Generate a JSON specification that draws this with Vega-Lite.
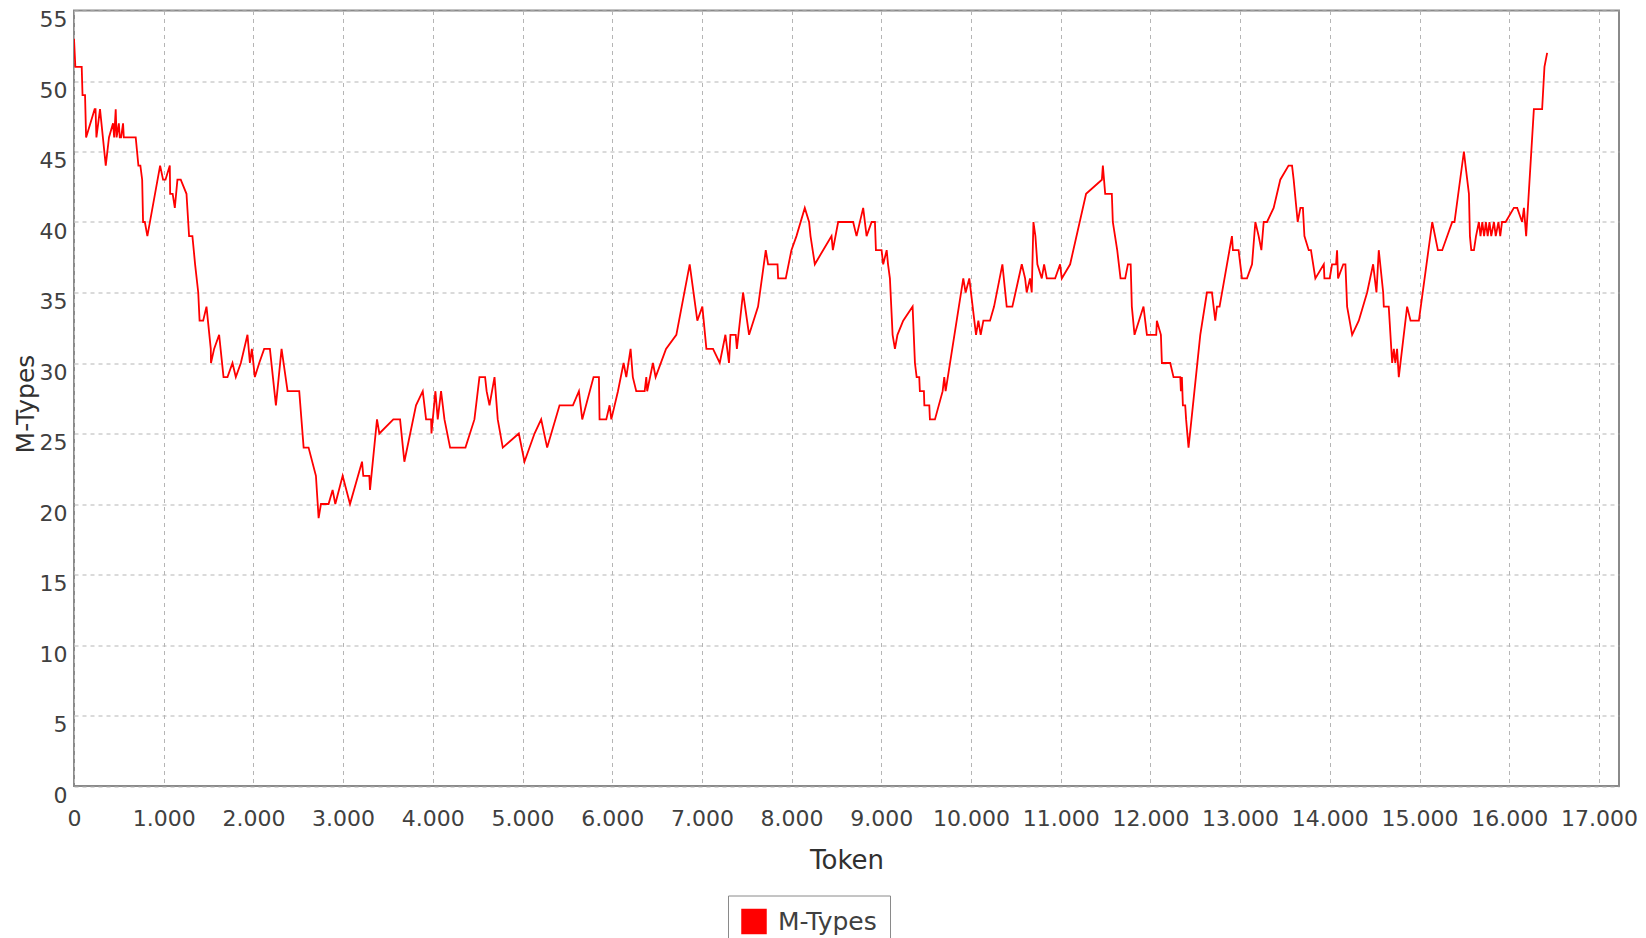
{
 "$schema": "https://vega.github.io/schema/vega-lite/v6.json",
 "autosize": {"type": "none"},
 "width": 1545,
 "height": 775.5,
 "padding": {"left": 74, "top": 10.5, "right": 27, "bottom": 152},
 "background": "white",
 "data": {"values": [
  {"t":0,"v":53},{"t":15,"v":51},{"t":86,"v":51},{"t":95,"v":49},{"t":123,"v":49},{"t":135,"v":46},{"t":230,"v":48},{"t":240,"v":48},{"t":250,"v":46},{"t":290,"v":48},{"t":354,"v":44},{"t":390,"v":46},{"t":435,"v":47},{"t":448,"v":46},{"t":465,"v":48},{"t":475,"v":46},{"t":500,"v":47},{"t":510,"v":46},{"t":525,"v":46},{"t":547,"v":47},{"t":555,"v":46},{"t":688,"v":46},{"t":718,"v":44},{"t":740,"v":44},{"t":760,"v":43},{"t":770,"v":40},{"t":790,"v":40},{"t":818,"v":39},{"t":960,"v":44},{"t":993,"v":43},{"t":1020,"v":43},{"t":1068,"v":44},{"t":1072,"v":42},{"t":1100,"v":42},{"t":1124,"v":41},{"t":1153,"v":43},{"t":1190,"v":43},{"t":1254,"v":42},{"t":1283,"v":39},{"t":1320,"v":39},{"t":1350,"v":37},{"t":1385,"v":35},{"t":1400,"v":33},{"t":1440,"v":33},{"t":1477,"v":34},{"t":1525,"v":31},{"t":1527,"v":30},{"t":1562,"v":31},{"t":1618,"v":32},{"t":1667,"v":29},{"t":1711,"v":29},{"t":1767,"v":30},{"t":1804,"v":29},{"t":1860,"v":30},{"t":1934,"v":32},{"t":1961,"v":30},{"t":1983,"v":31},{"t":2016,"v":29},{"t":2065,"v":30},{"t":2120,"v":31},{"t":2184,"v":31},{"t":2251,"v":27},{"t":2314,"v":31},{"t":2381,"v":28},{"t":2511,"v":28},
  {"t":2560,"v":24},{"t":2615,"v":24},{"t":2697,"v":22},{"t":2727,"v":19},{"t":2753,"v":20},{"t":2838,"v":20},{"t":2883,"v":21},{"t":2913,"v":20},{"t":2995,"v":22},{"t":3077,"v":20},{"t":3211,"v":23},{"t":3225,"v":22},{"t":3292,"v":22},{"t":3300,"v":21},{"t":3378,"v":26},{"t":3404,"v":25},{"t":3560,"v":26},{"t":3635,"v":26},{"t":3683,"v":23},{"t":3813,"v":27},{"t":3888,"v":28},{"t":3925,"v":26},{"t":3981,"v":26},{"t":3985,"v":25},{"t":4029,"v":28},{"t":4055,"v":26},{"t":4092,"v":28},{"t":4130,"v":26},{"t":4193,"v":24},{"t":4364,"v":24},{"t":4464,"v":26},{"t":4520,"v":29},{"t":4583,"v":29},{"t":4600,"v":28},{"t":4632,"v":27},{"t":4688,"v":29},{"t":4724,"v":26},{"t":4780,"v":24},{"t":4959,"v":25},{"t":5022,"v":23},{"t":5134,"v":25},{"t":5208,"v":26},{"t":5275,"v":24},{"t":5413,"v":27},{"t":5562,"v":27},{"t":5629,"v":28},{"t":5666,"v":26},{"t":5792,"v":29},{"t":5852,"v":29},{"t":5859,"v":26},{"t":5934,"v":26},{"t":5971,"v":27},{"t":5990,"v":26},{"t":6064,"v":28},{"t":6127,"v":30},{"t":6157,"v":29},{"t":6205,"v":31},{"t":6230,"v":29},{"t":6268,"v":28},{"t":6362,"v":28},{"t":6380,"v":29},{"t":6390,"v":28},{"t":6454,"v":30},{"t":6484,"v":29},
  {"t":6600,"v":31},{"t":6715,"v":32},{"t":6864,"v":37},{"t":6949,"v":33},{"t":7005,"v":34},{"t":7050,"v":31},{"t":7124,"v":31},{"t":7199,"v":30},{"t":7262,"v":32},{"t":7302,"v":30},{"t":7318,"v":32},{"t":7377,"v":32},{"t":7390,"v":31},{"t":7459,"v":35},{"t":7526,"v":32},{"t":7626,"v":34},{"t":7712,"v":38},{"t":7738,"v":37},{"t":7843,"v":37},{"t":7850,"v":36},{"t":7935,"v":36},{"t":7998,"v":38},{"t":8054,"v":39},{"t":8147,"v":41},{"t":8195,"v":40},{"t":8211,"v":39},{"t":8259,"v":37},{"t":8351,"v":38},{"t":8445,"v":39},{"t":8460,"v":38},{"t":8519,"v":40},{"t":8686,"v":40},{"t":8724,"v":39},{"t":8798,"v":41},{"t":8836,"v":39},{"t":8892,"v":40},{"t":8929,"v":40},{"t":8940,"v":38},{"t":9003,"v":38},{"t":9021,"v":37},{"t":9060,"v":38},{"t":9075,"v":37},{"t":9096,"v":36},{"t":9126,"v":32},{"t":9152,"v":31},{"t":9180,"v":32},{"t":9244,"v":33},{"t":9349,"v":34},{"t":9375,"v":30},{"t":9394,"v":29},{"t":9423,"v":29},{"t":9430,"v":28},{"t":9475,"v":28},{"t":9480,"v":27},{"t":9535,"v":27},{"t":9542,"v":26},{"t":9598,"v":26},{"t":9684,"v":28},{"t":9702,"v":29},{"t":9717,"v":28},{"t":9914,"v":36},{"t":9940,"v":35},{"t":9981,"v":36},{"t":10056,"v":32},{"t":10082,"v":33},{"t":10108,"v":32},{"t":10138,"v":33},{"t":10212,"v":33},{"t":10257,"v":34},{"t":10350,"v":37},{"t":10398,"v":34},{"t":10461,"v":34},{"t":10566,"v":37},{"t":10603,"v":36},{"t":10621,"v":35},{"t":10658,"v":36},{"t":10677,"v":35},{"t":10696,"v":40},{"t":10718,"v":39},{"t":10740,"v":37},{"t":10789,"v":36},{"t":10815,"v":37},{"t":10845,"v":36},{"t":10938,"v":36},{"t":10993,"v":37},{"t":11012,"v":36},{"t":11105,"v":37},{"t":11283,"v":42},{"t":11459,"v":43},{"t":11470,"v":44},{"t":11496,"v":42},{"t":11570,"v":42},
  {"t":11581,"v":40},{"t":11630,"v":38},{"t":11667,"v":36},{"t":11719,"v":36},{"t":11749,"v":37},{"t":11780,"v":37},{"t":11793,"v":34},{"t":11823,"v":32},{"t":11923,"v":34},{"t":11961,"v":32},{"t":12065,"v":32},{"t":12072,"v":33},{"t":12117,"v":32},{"t":12128,"v":30},{"t":12221,"v":30},{"t":12258,"v":29},{"t":12333,"v":29},{"t":12340,"v":28},{"t":12351,"v":29},{"t":12362,"v":27},{"t":12388,"v":27},{"t":12398,"v":26},{"t":12425,"v":24},{"t":12556,"v":32},{"t":12630,"v":35},{"t":12686,"v":35},{"t":12723,"v":33},{"t":12742,"v":34},{"t":12771,"v":34},{"t":12909,"v":39},{"t":12920,"v":38},{"t":12983,"v":38},{"t":13021,"v":36},{"t":13077,"v":36},{"t":13133,"v":37},{"t":13170,"v":40},{"t":13207,"v":39},{"t":13237,"v":38},{"t":13263,"v":40},{"t":13300,"v":40},{"t":13374,"v":41},{"t":13448,"v":43},{"t":13540,"v":44},{"t":13579,"v":44},{"t":13597,"v":43},{"t":13642,"v":40},{"t":13672,"v":41},{"t":13700,"v":41},{"t":13717,"v":39},{"t":13765,"v":38},{"t":13790,"v":38},{"t":13839,"v":36},{"t":13933,"v":37},{"t":13940,"v":36},{"t":13999,"v":36},{"t":14025,"v":37},{"t":14070,"v":37},{"t":14081,"v":38},{"t":14092,"v":36},{"t":14150,"v":37},{"t":14174,"v":37},{"t":14193,"v":34},{"t":14249,"v":32},{"t":14323,"v":33},{"t":14416,"v":35},{"t":14483,"v":37},{"t":14520,"v":35},{"t":14546,"v":38},{"t":14595,"v":35},{"t":14602,"v":34},{"t":14657,"v":34},{"t":14695,"v":30},{"t":14714,"v":31},{"t":14730,"v":30},{"t":14750,"v":31},{"t":14769,"v":29},{"t":14862,"v":34},{"t":14900,"v":33},{"t":14993,"v":33},
  {"t":15142,"v":40},{"t":15205,"v":38},{"t":15253,"v":38},{"t":15365,"v":40},{"t":15390,"v":40},{"t":15495,"v":45},{"t":15513,"v":44},{"t":15551,"v":42},{"t":15562,"v":39},{"t":15577,"v":38},{"t":15607,"v":38},{"t":15630,"v":39},{"t":15662,"v":40},{"t":15680,"v":39},{"t":15700,"v":40},{"t":15720,"v":39},{"t":15740,"v":40},{"t":15760,"v":39},{"t":15780,"v":40},{"t":15800,"v":39},{"t":15830,"v":40},{"t":15850,"v":39},{"t":15880,"v":40},{"t":15900,"v":39},{"t":15920,"v":40},{"t":15960,"v":40},{"t":16052,"v":41},{"t":16089,"v":41},{"t":16144,"v":40},{"t":16164,"v":41},{"t":16189,"v":39},{"t":16275,"v":48},{"t":16367,"v":48},{"t":16393,"v":51},{"t":16423,"v":52}
 ]},
 "mark": {"type": "line", "strokeWidth": 1.8, "interpolate": "linear", "clip": true},
 "encoding": {
  "x": {"field": "t", "type": "quantitative",
   "scale": {"domain": [0, 17224], "nice": false, "zero": false},
   "axis": {"title": "Token", "values": [0,1000,2000,3000,4000,5000,6000,7000,8000,9000,10000,11000,12000,13000,14000,15000,16000,17000],
    "labelExpr": "replace(format(datum.value, ','), ',', '.')",
    "labelFlush": false, "labelOverlap": false, "labelPadding": 22,
    "titleY": 82, "titleBaseline": "alphabetic", "titleFontSize": 26}},
  "y": {"field": "v", "type": "quantitative",
   "scale": {"domain": [0, 55], "nice": false},
   "axis": {"title": "M-Types", "values": [0,5,10,15,20,25,30,35,40,45,50,55],
    "labelPadding": 7, "labelOffset": 9, "labelOverlap": false,
    "titleX": -41, "titleY": 393, "titleAngle": -90, "titleBaseline": "alphabetic", "titleAlign": "center", "titleFontSize": 25}},
  "color": {"datum": "M-Types", "scale": {"range": ["#ff0000"]},
   "legend": {"title": null, "orient": "none", "legendX": 654, "legendY": 885,
    "symbolType": "square", "symbolSize": 650, "symbolFillColor": "#ff0000", "symbolStrokeColor": "#ff0000", "symbolStrokeWidth": 0,
    "labelFont": "DejaVu Sans", "labelFontSize": 25, "labelColor": "#404040", "labelOffset": 11,
    "padding": 13, "strokeColor": "#8a8a8a", "fillColor": "white"}}
 },
 "config": {
  "view": {"stroke": "#8a8a8a", "strokeWidth": 2},
  "axis": {"domain": false, "ticks": false, "tickSize": 0, "grid": true, "gridColor": "#b5b5b5", "gridDash": [4, 4], "gridWidth": 1,
   "labelFont": "DejaVu Sans", "labelFontSize": 22, "labelColor": "#404040",
   "titleFont": "DejaVu Sans", "titleFontWeight": "normal", "titleColor": "#303030"}
 }
}
